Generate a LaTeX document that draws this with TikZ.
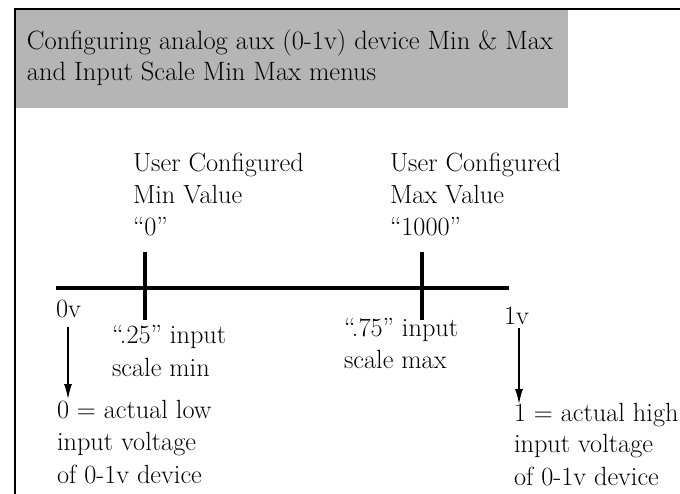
\documentclass[tikz,border=0pt]{standalone}
\usetikzlibrary{arrows.meta}
\definecolor{boxgray}{RGB}{181,181,181}
\tikzset{
  lbl/.style={anchor=base west, inner sep=0pt, outer sep=0pt, font=\fontsize{26.3}{32}\selectfont},
  ttl/.style={anchor=base west, inner sep=0pt, outer sep=0pt, font=\fontsize{26.5}{31}\selectfont},
  axisline/.style={line width=3.5pt},
  tickline/.style={line width=3.2pt},
  pointer/.style={line width=1.3pt, -{Latex[length=15pt,width=8pt]}},
  frameline/.style={line width=1.8pt}
}
\begin{document}
\begin{tikzpicture}[x=1pt,y=-1pt]
\useasboundingbox (0,0) rectangle (680,494);
% frame
\coordinate (fa) at (680,9);
\coordinate (fb) at (15,9);
\coordinate (fc) at (15,494);
\fill[boxgray] (16,10) rectangle (568,108);
\draw[frameline] (fa) -- (fb) -- (fc);
% title
\node[ttl] (t1) at (27,50) {Configuring analog aux (0-1v) device Min \& Max};
\node[ttl] (t2) at (27,81) {and Input Scale Min Max menus};
% axis
\coordinate (axL) at (56,288);
\coordinate (axR) at (509,288);
\draw[axisline] (axL) -- (axR);
\coordinate (k1t) at (145,252);
\coordinate (k1b) at (145,320);
\coordinate (k2t) at (422,252);
\coordinate (k2b) at (422,320);
\draw[tickline] (k1t) -- (k1b);
\draw[tickline] (k2t) -- (k2b);
% upper labels
\node[lbl] (u1) at (133,172) {User Configured};
\node[lbl] (u2) at (133,204) {Min Value};
\node[lbl] (u3) at (133,236) {“0”};
\node[lbl] (w1) at (390,172) {User Configured};
\node[lbl] (w2) at (390,204) {Max Value};
\node[lbl] (w3) at (390,236) {“1000”};
% axis end labels
\node[lbl] (v0) at (56,317) {0v};
\node[lbl] (v1) at (504,324) {1v};
% input scale labels
\node[lbl] (s1) at (112,344) {“.25” input};
\node[lbl] (s2) at (112,376) {scale min};
\node[lbl] (m1) at (344,336) {“.75” input};
\node[lbl] (m2) at (344,368) {scale max};
% bottom labels
\node[lbl] (b1) at (57,418) {0 = actual low};
\node[lbl] (b2) at (57,450) {input voltage};
\node[lbl] (b3) at (57,483) {of 0-1v device};
\node[lbl] (c1) at (514,421) {1 = actual high};
\node[lbl] (c2) at (514,452) {input voltage};
\node[lbl] (c3) at (514,485) {of 0-1v device};
% arrows
\coordinate (a0s) at (68,327);
\coordinate (a0e) at (68,399);
\coordinate (a1s) at (519,328);
\coordinate (a1e) at (519,404);
\draw[pointer] (a0s) -- (a0e);
\draw[pointer] (a1s) -- (a1e);
\end{tikzpicture}
\end{document}
